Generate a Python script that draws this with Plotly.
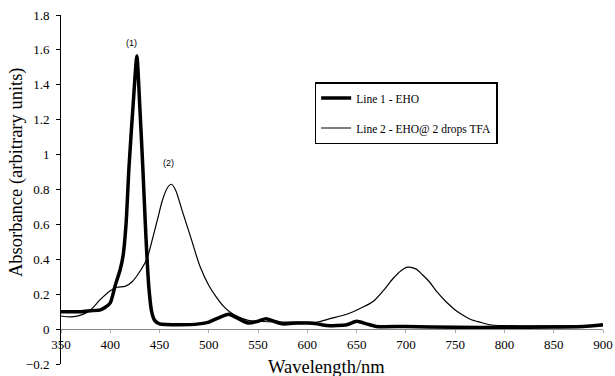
import plotly.graph_objects as go

# Line 1 - EHO
wl1 = [350, 360, 370, 380, 390, 395, 400, 405, 410, 413, 416, 419, 423, 427, 430, 433, 436, 439, 442, 445, 450,
       470, 490, 500, 510, 520, 530, 540, 550, 558, 566, 575, 590, 600, 610, 620, 640, 650, 660, 670, 700,
       750, 800, 850, 880, 900]
abs1 = [0.10, 0.10, 0.10, 0.105, 0.11, 0.125, 0.15, 0.25, 0.34, 0.42, 0.60, 0.93, 1.27, 1.565, 1.27, 0.93, 0.55,
        0.25, 0.10, 0.05, 0.03, 0.025, 0.03, 0.04, 0.065, 0.085, 0.06, 0.035, 0.045, 0.06, 0.045, 0.03, 0.035,
        0.035, 0.03, 0.02, 0.025, 0.045, 0.03, 0.015, 0.015, 0.01, 0.01, 0.012, 0.015, 0.025]

# Line 2 - EHO@ 2 drops TFA
wl2 = [350, 360, 370, 380, 390, 400, 407, 415, 422, 430, 437, 443, 448, 453, 458, 462, 466, 474, 482, 491, 500,
       508, 515, 521, 530, 540, 550, 570, 590, 610, 623, 640, 656, 667, 677, 687, 695, 702, 710, 717, 724, 732,
       741, 750, 758, 766, 775, 785, 800, 850, 900]
abs2 = [0.075, 0.07, 0.08, 0.11, 0.17, 0.22, 0.24, 0.245, 0.27, 0.33, 0.40, 0.52, 0.63, 0.74, 0.81, 0.83, 0.80,
        0.66, 0.52, 0.36, 0.25, 0.18, 0.13, 0.10, 0.07, 0.05, 0.045, 0.04, 0.04, 0.04, 0.06, 0.085, 0.125, 0.16,
        0.22, 0.29, 0.335, 0.355, 0.345, 0.31, 0.27, 0.21, 0.155, 0.11, 0.08, 0.055, 0.04, 0.025, 0.02, 0.018, 0.02]

x_ticks = [350, 400, 450, 500, 550, 600, 650, 700, 750, 800, 850, 900]
y_ticks = [-0.2, 0, 0.2, 0.4, 0.6, 0.8, 1, 1.2, 1.4, 1.6, 1.8]
y_ticktext = ["\u22120.2", "0", "0.2", "0.4", "0.6", "0.8", "1", "1.2", "1.4", "1.6", "1.8"]

names = ["Line 1 - EHO", "Line 2 - EHO@ 2 drops TFA"]
peak_labels = ["(1)", "(2)"]
peak_pos = [(422, 1.64), (459, 0.95)]

serif = "Liberation Serif"

fig = go.Figure()
fig.add_trace(go.Scatter(x=wl1, y=abs1, mode="lines", name=names[0],
                         line=dict(color="black", width=3.5, shape="spline", smoothing=0.6),
                         legendgroup="a"))
fig.add_trace(go.Scatter(x=wl2, y=abs2, mode="lines", name=names[1],
                         line=dict(color="black", width=1.2, shape="spline", smoothing=0.8),
                         legendgroup="b"))

for lab, (px, py) in zip(peak_labels, peak_pos):
    fig.add_annotation(x=px, y=py, text=lab, showarrow=False,
                       font=dict(family="Liberation Sans", size=9, color="black"))

fig.add_annotation(xref="paper", yref="paper", x=0.49, y=-0.01, text="Wavelength/nm",
                   showarrow=False, xanchor="center", yanchor="middle", borderpad=0,
                   font=dict(family=serif, size=18.5, color="black"))
fig.add_annotation(xref="paper", yref="paper", x=-0.083, y=0.55, text="Absorbance (arbitrary units)",
                   textangle=-90, showarrow=False, xanchor="center", yanchor="middle", borderpad=0,
                   font=dict(family=serif, size=18.5, color="black"))

fig.update_layout(
    width=615, height=376,
    margin=dict(l=61, r=12, t=15, b=12, autoexpand=False),
    plot_bgcolor="white", paper_bgcolor="white",
    font=dict(family=serif, size=13, color="black"),
    showlegend=True,
    legend=dict(x=0.468, y=0.808, xanchor="left", yanchor="top",
                bordercolor="black", borderwidth=1.5, bgcolor="white",
                font=dict(family=serif, size=11.5, color="black"),
                traceorder="grouped", tracegroupgap=11, itemwidth=30),
    xaxis=dict(range=[350, 900], tickvals=x_ticks, ticktext=[str(v) for v in x_ticks],
               anchor="free", position=0.1, showline=True, linecolor="#888888", linewidth=1,
               ticks="outside", ticklen=3, tickcolor="#aaaaaa", showgrid=False, zeroline=False,
               tickfont=dict(family=serif, size=13, color="black"), automargin=False),
    yaxis=dict(range=[-0.2, 1.8], tickvals=y_ticks, ticktext=y_ticktext,
               showline=True, linecolor="black", linewidth=1, ticks="outside", ticklen=4,
               tickcolor="black", showgrid=False, zeroline=False, ticklabelstandoff=4,
               tickfont=dict(family=serif, size=13, color="black"), automargin=False),
)

fig.write_html("out.html")
